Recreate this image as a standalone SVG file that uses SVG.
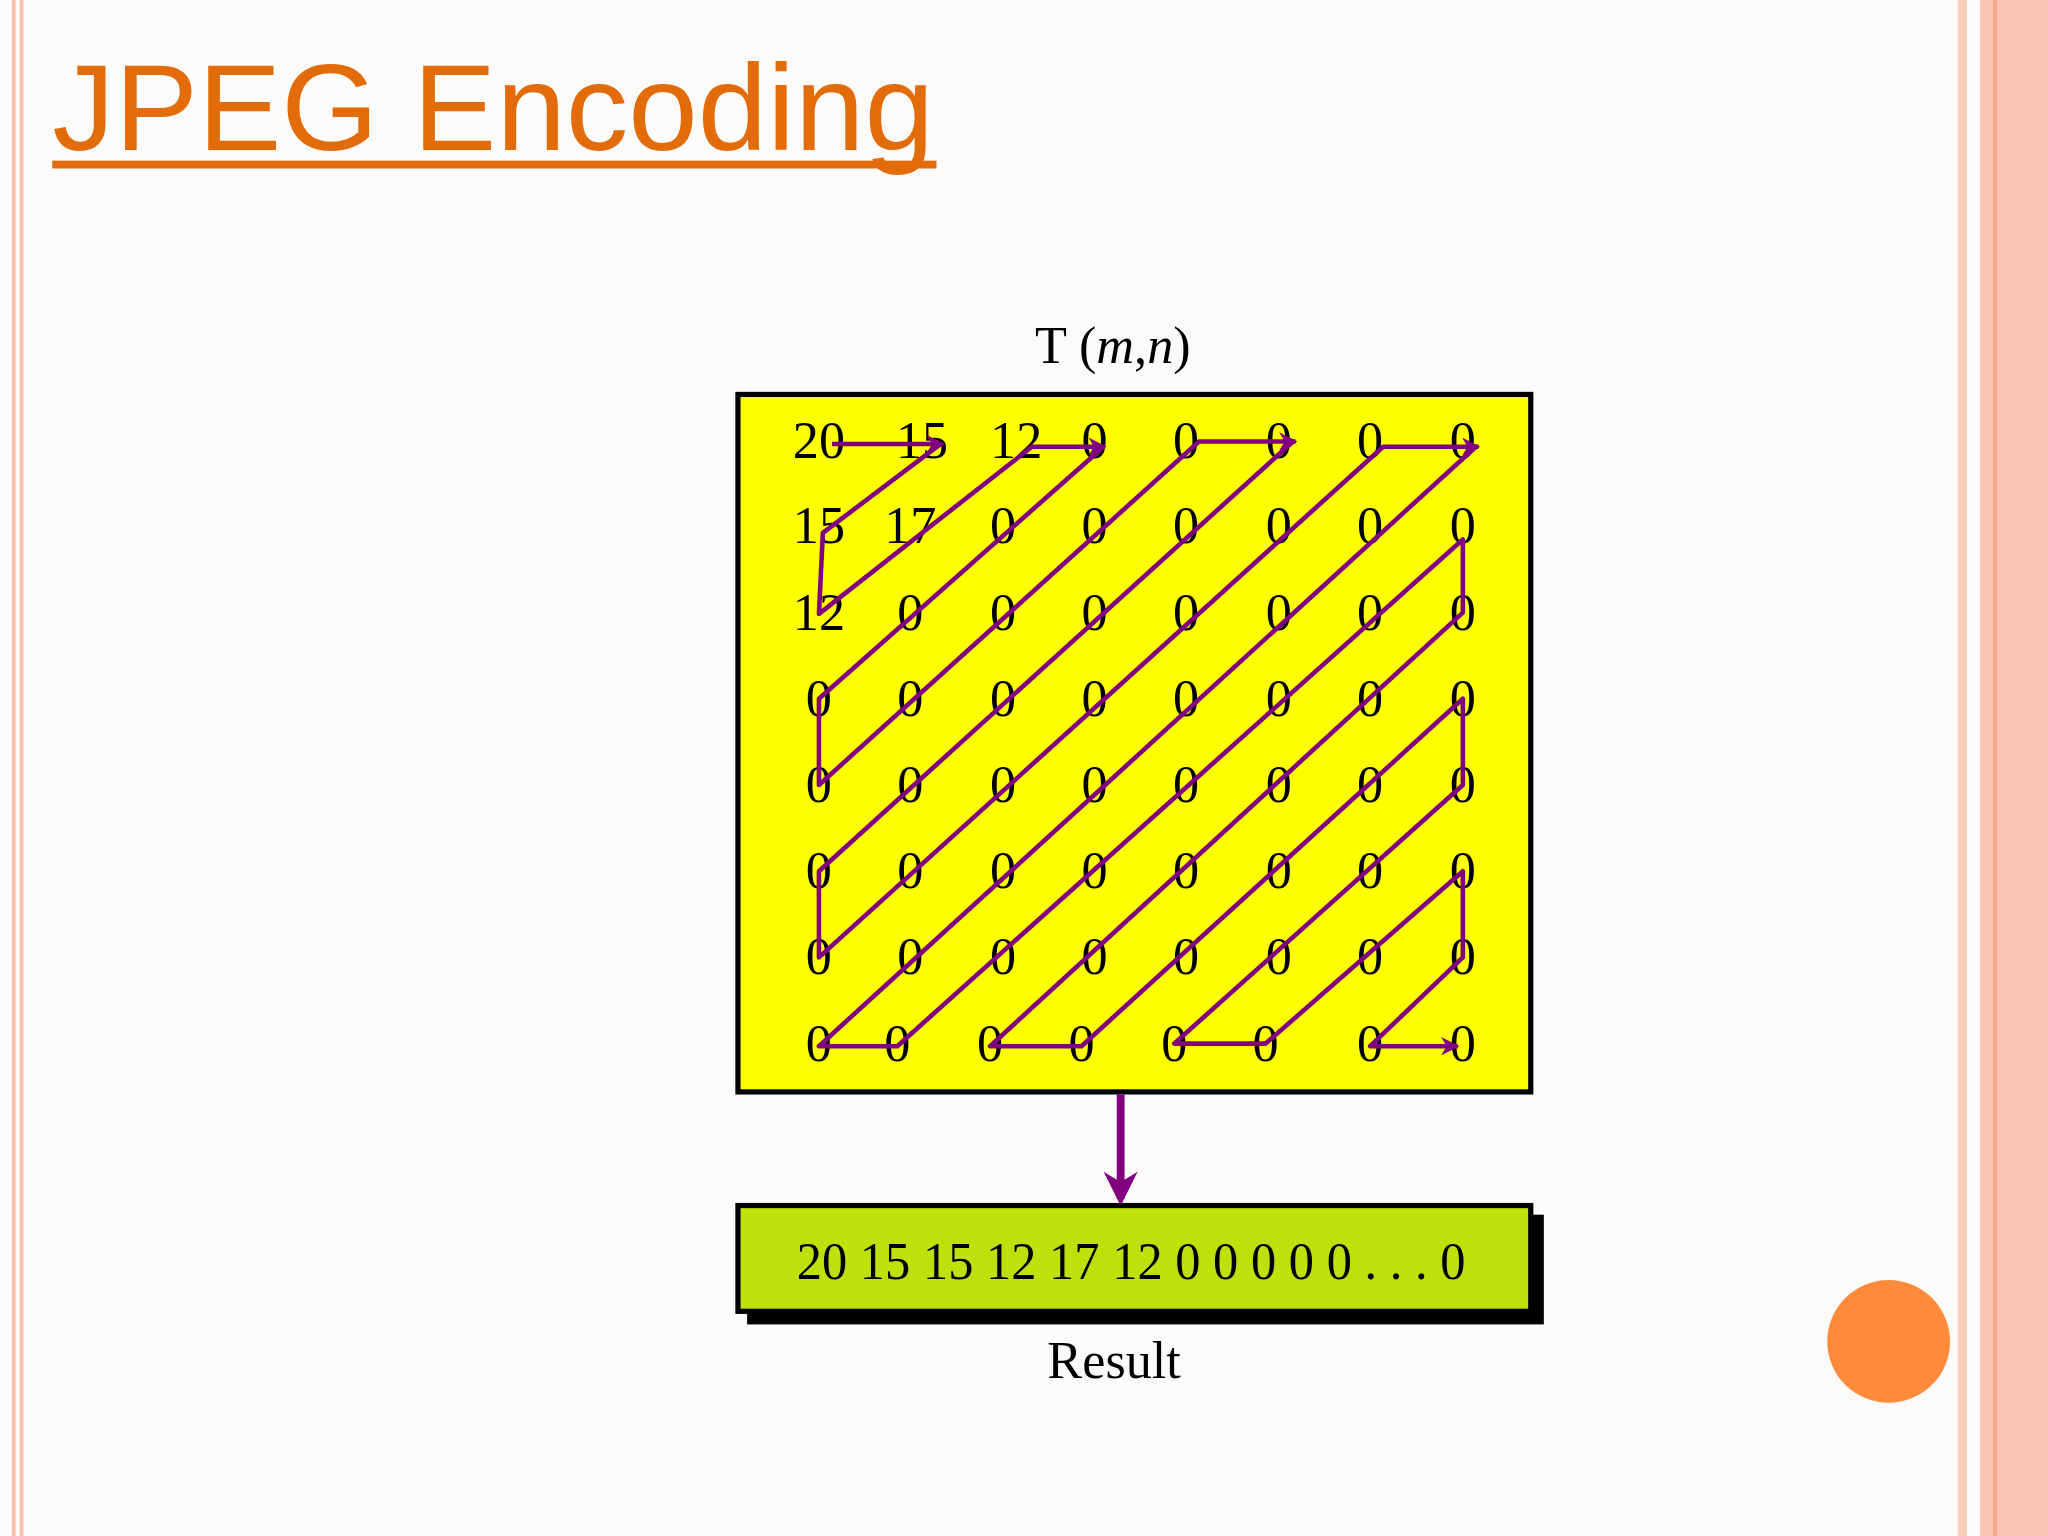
<svg xmlns="http://www.w3.org/2000/svg" width="2048" height="1536" viewBox="0 0 2048 1536">
<defs>
<style>
.n{font-family:"Liberation Serif",serif;font-size:40px;fill:#000;text-anchor:middle}
.z{fill:none;stroke:#800080;stroke-width:3.5;stroke-linejoin:round}
</style>
<marker id="ah" viewBox="0 0 10 10" refX="9" refY="5" markerWidth="16" markerHeight="14" orient="auto" markerUnits="userSpaceOnUse"><path d="M0,0 L10,5 L0,10 L3,5 z" fill="#800080"/></marker>
<marker id="ah2" viewBox="0 0 10 10" refX="8" refY="5" markerWidth="30" markerHeight="26" orient="auto" markerUnits="userSpaceOnUse"><path d="M0,0 L10,5 L0,10 L3,5 z" fill="#800080"/></marker>
</defs>
<rect width="2048" height="1536" fill="#fdfbfa"/>
<g transform="scale(1.30612)">
<g id="borders">
<rect x="9" y="0" width="3" height="1176" fill="#f8c0ac"/>
<rect x="15" y="0" width="3" height="1176" fill="#f8c0ac"/>
<rect x="1499" y="0" width="7" height="1176" fill="#fbcdbd"/>
<rect x="1516" y="0" width="52" height="1176" fill="#fbc6b3"/>
<rect x="1526" y="0" width="3" height="1176" fill="#f4a890"/>
</g>
<g id="title">
<text x="40" y="115" font-family="Liberation Sans,Arial,sans-serif" font-size="94" fill="#e36c0a" textLength="675" lengthAdjust="spacingAndGlyphs">JPEG Encoding</text>
<rect x="40" y="123" width="677" height="6" fill="#e36c0a"/>
</g>
<g id="label-T"><text class="n" x="852" y="278">T (<tspan font-style="italic">m</tspan>,<tspan font-style="italic">n</tspan>)</text></g>
<g id="matrix">
<rect x="565" y="302" width="607" height="534" fill="#ffff00" stroke="#000" stroke-width="4"/>
<g class="n">
<text x="627" y="351">20</text><text x="706" y="351">15</text><text x="778" y="351">12</text><text x="838" y="351">0</text><text x="908" y="351">0</text><text x="979" y="351">0</text><text x="1049" y="351">0</text><text x="1120" y="351">0</text>
<text x="627" y="416">15</text><text x="697" y="416">17</text><text x="768" y="416">0</text><text x="838" y="416">0</text><text x="908" y="416">0</text><text x="979" y="416">0</text><text x="1049" y="416">0</text><text x="1120" y="416">0</text>
<text x="627" y="482">12</text><text x="697" y="482">0</text><text x="768" y="482">0</text><text x="838" y="482">0</text><text x="908" y="482">0</text><text x="979" y="482">0</text><text x="1049" y="482">0</text><text x="1120" y="482">0</text>
<text x="627" y="548">0</text><text x="697" y="548">0</text><text x="768" y="548">0</text><text x="838" y="548">0</text><text x="908" y="548">0</text><text x="979" y="548">0</text><text x="1049" y="548">0</text><text x="1120" y="548">0</text>
<text x="627" y="614">0</text><text x="697" y="614">0</text><text x="768" y="614">0</text><text x="838" y="614">0</text><text x="908" y="614">0</text><text x="979" y="614">0</text><text x="1049" y="614">0</text><text x="1120" y="614">0</text>
<text x="627" y="680">0</text><text x="697" y="680">0</text><text x="768" y="680">0</text><text x="838" y="680">0</text><text x="908" y="680">0</text><text x="979" y="680">0</text><text x="1049" y="680">0</text><text x="1120" y="680">0</text>
<text x="627" y="746">0</text><text x="697" y="746">0</text><text x="768" y="746">0</text><text x="838" y="746">0</text><text x="908" y="746">0</text><text x="979" y="746">0</text><text x="1049" y="746">0</text><text x="1120" y="746">0</text>
<text x="627" y="812">0</text><text x="687" y="812">0</text><text x="758" y="812">0</text><text x="828" y="812">0</text><text x="899" y="812">0</text><text x="969" y="812">0</text><text x="1049" y="812">0</text><text x="1120" y="812">0</text>
</g>
</g>
<g id="connectors">
<path class="z" d="M637,340 L722,340" marker-end="url(#ah)"/>
<path class="z" d="M720,340 L630,408 L627,470 L790,342 L846,342" marker-end="url(#ah)"/>
<path class="z" d="M845,342 L627,535 L627,601 L918,338 L992,338" marker-end="url(#ah)"/>
<path class="z" d="M990,338 L627,667 L627,733 L1059,342 L1132,342" marker-end="url(#ah)"/>
<path class="z" d="M1130,342 L627,801 L687,801 L1120,413 L1120,469 L758,801 L828,801 L1120,535 L1120,601 L899,799 L969,799 L1120,667 L1120,733 L1049,801 L1116,801" marker-end="url(#ah)"/>
<path d="M858,838 L858,918" stroke="#800080" stroke-width="6" fill="none" marker-end="url(#ah2)"/>
</g>
<g id="result">
<rect x="572" y="930" width="610" height="84" fill="#000"/>
<rect x="565" y="923" width="607" height="81" fill="#bfe00a" stroke="#000" stroke-width="4"/>
<text class="n" x="866" y="979" textLength="512" lengthAdjust="spacingAndGlyphs">20 15 15 12 17 12 0 0 0 0 0 . . . 0</text>
<text class="n" x="853" y="1055">Result</text>
</g>
<circle cx="1446" cy="1027" r="47" fill="#fe8a3c"/>
</g>
</svg>
